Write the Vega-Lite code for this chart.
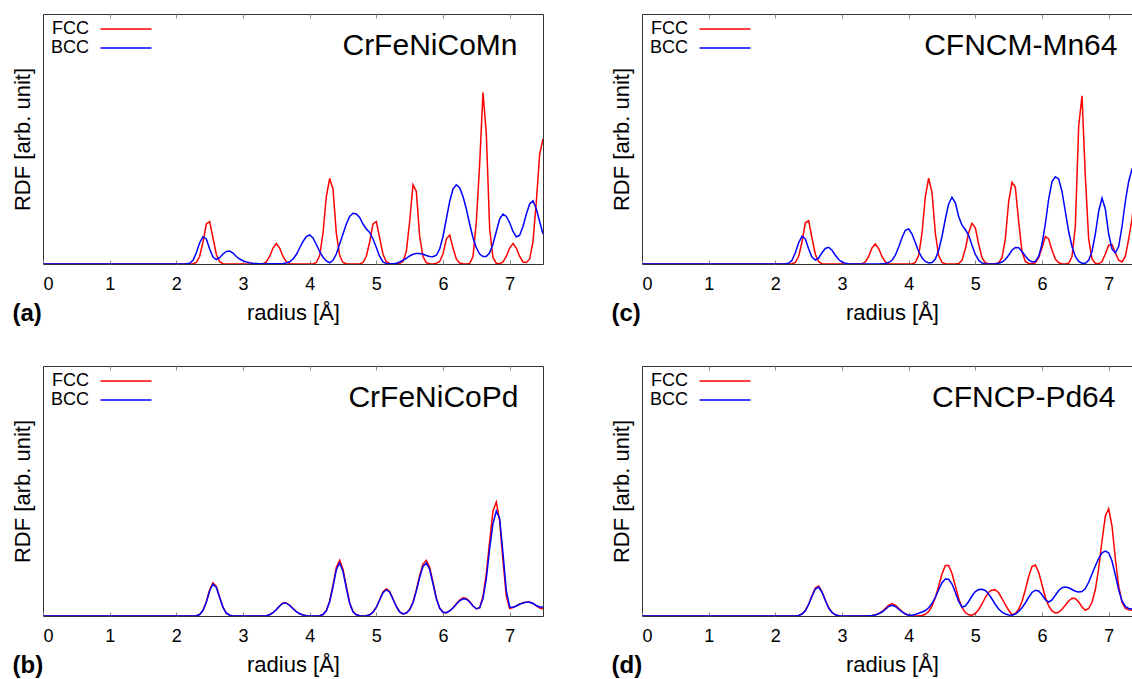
{
"$schema": "https://vega.github.io/schema/vega-lite/v6.json",
"background": "white",
"padding": {"left": 10, "top": 13, "right": 0, "bottom": 0},
"datasets": {
"a": [
{"r":0,"FCC":0,"BCC":0},{"r":2.05,"FCC":0,"BCC":0},{"r":2.1,"FCC":0,"BCC":0.05},{"r":2.15,"FCC":0,"BCC":0.1},{"r":2.2,"FCC":0,"BCC":0.3},{"r":2.25,"FCC":0.1,"BCC":1.5},{"r":2.3,"FCC":0.6,"BCC":4.5},{"r":2.35,"FCC":3.1,"BCC":8.5},{"r":2.4,"FCC":8.8,"BCC":10.9},{"r":2.45,"FCC":16,"BCC":10},{"r":2.5,"FCC":17,"BCC":6},{"r":2.55,"FCC":10.4,"BCC":2.8},{"r":2.6,"FCC":3.9,"BCC":1.8},{"r":2.65,"FCC":0.9,"BCC":2.5},{"r":2.7,"FCC":0.1,"BCC":4},{"r":2.75,"FCC":0,"BCC":5},{"r":2.8,"FCC":0,"BCC":5.2},{"r":2.85,"FCC":0,"BCC":4.4},{"r":2.9,"FCC":0,"BCC":3},{"r":2.95,"FCC":0,"BCC":2},{"r":3.0,"FCC":0,"BCC":1.3},{"r":3.05,"FCC":0,"BCC":0.8},{"r":3.1,"FCC":0,"BCC":0.5},{"r":3.15,"FCC":0,"BCC":0.3},{"r":3.2,"FCC":0,"BCC":0.2},{"r":3.25,"FCC":0,"BCC":0.1},{"r":3.3,"FCC":0.15,"BCC":0.1},{"r":3.35,"FCC":0.8,"BCC":0.1},{"r":3.4,"FCC":3,"BCC":0.1},{"r":3.45,"FCC":6.4,"BCC":0.1},{"r":3.5,"FCC":8.2,"BCC":0.1},{"r":3.55,"FCC":6.4,"BCC":0.1},{"r":3.6,"FCC":3,"BCC":0.2},{"r":3.65,"FCC":0.8,"BCC":0.4},{"r":3.7,"FCC":0.15,"BCC":0.9},{"r":3.75,"FCC":0,"BCC":2},{"r":3.8,"FCC":0,"BCC":3.8},{"r":3.85,"FCC":0,"BCC":6.4},{"r":3.9,"FCC":0,"BCC":9},{"r":3.95,"FCC":0,"BCC":11},{"r":4.0,"FCC":0,"BCC":11.6},{"r":4.05,"FCC":0,"BCC":10.4},{"r":4.1,"FCC":0.6,"BCC":7.8},{"r":4.15,"FCC":3.4,"BCC":5},{"r":4.2,"FCC":12.3,"BCC":2.7},{"r":4.25,"FCC":27,"BCC":1.2},{"r":4.3,"FCC":34.2,"BCC":0.5},{"r":4.35,"FCC":30,"BCC":1.5},{"r":4.4,"FCC":12.3,"BCC":4},{"r":4.45,"FCC":3.4,"BCC":8},{"r":4.5,"FCC":0.6,"BCC":12},{"r":4.55,"FCC":0.1,"BCC":16},{"r":4.6,"FCC":0,"BCC":19},{"r":4.65,"FCC":0,"BCC":20.3},{"r":4.7,"FCC":0,"BCC":20},{"r":4.75,"FCC":0,"BCC":18.6},{"r":4.8,"FCC":0.6,"BCC":16},{"r":4.85,"FCC":3.1,"BCC":14},{"r":4.9,"FCC":8.8,"BCC":12.6},{"r":4.95,"FCC":16,"BCC":10},{"r":5.0,"FCC":17,"BCC":6.6},{"r":5.05,"FCC":10.4,"BCC":3},{"r":5.1,"FCC":3.9,"BCC":0.8},{"r":5.15,"FCC":0.9,"BCC":0.2},{"r":5.2,"FCC":0.1,"BCC":0.1},{"r":5.25,"FCC":0,"BCC":0.1},{"r":5.3,"FCC":0,"BCC":0.3},{"r":5.35,"FCC":0.3,"BCC":0.8},{"r":5.4,"FCC":1,"BCC":1.5},{"r":5.45,"FCC":5,"BCC":2.3},{"r":5.5,"FCC":17,"BCC":3.2},{"r":5.55,"FCC":31.7,"BCC":3.9},{"r":5.6,"FCC":29,"BCC":4.2},{"r":5.65,"FCC":11,"BCC":4.2},{"r":5.7,"FCC":3,"BCC":3.9},{"r":5.75,"FCC":0.5,"BCC":3.4},{"r":5.8,"FCC":0.1,"BCC":3},{"r":5.85,"FCC":0,"BCC":2.9},{"r":5.9,"FCC":0.3,"BCC":3.5},{"r":5.95,"FCC":1,"BCC":6},{"r":6.0,"FCC":4,"BCC":11},{"r":6.05,"FCC":10,"BCC":18},{"r":6.1,"FCC":11.6,"BCC":25},{"r":6.15,"FCC":6.5,"BCC":30},{"r":6.2,"FCC":2,"BCC":31.7},{"r":6.25,"FCC":0.4,"BCC":30.5},{"r":6.3,"FCC":0.1,"BCC":27},{"r":6.35,"FCC":0,"BCC":22},{"r":6.4,"FCC":0.2,"BCC":16},{"r":6.45,"FCC":3,"BCC":10.5},{"r":6.5,"FCC":17,"BCC":6.5},{"r":6.55,"FCC":40,"BCC":4},{"r":6.6,"FCC":68.6,"BCC":3},{"r":6.65,"FCC":52,"BCC":3},{"r":6.7,"FCC":14,"BCC":4.5},{"r":6.75,"FCC":2.5,"BCC":8},{"r":6.8,"FCC":0.3,"BCC":13},{"r":6.85,"FCC":0.1,"BCC":18},{"r":6.9,"FCC":0.8,"BCC":20},{"r":6.95,"FCC":3,"BCC":19},{"r":7.0,"FCC":6.4,"BCC":16.5},{"r":7.05,"FCC":8.2,"BCC":13},{"r":7.1,"FCC":6.4,"BCC":10.8},{"r":7.15,"FCC":3,"BCC":11.5},{"r":7.2,"FCC":0.8,"BCC":15},{"r":7.25,"FCC":0.6,"BCC":20},{"r":7.3,"FCC":2,"BCC":24},{"r":7.35,"FCC":9,"BCC":25.3},{"r":7.4,"FCC":25,"BCC":22},{"r":7.45,"FCC":44,"BCC":17},{"r":7.5,"FCC":50,"BCC":12}
],
"c": [
{"r":0,"FCC":0,"BCC":0},{"r":2.1,"FCC":0,"BCC":0},{"r":2.15,"FCC":0,"BCC":0.1},{"r":2.2,"FCC":0,"BCC":0.3},{"r":2.25,"FCC":0.1,"BCC":1.5},{"r":2.3,"FCC":0.6,"BCC":4.5},{"r":2.35,"FCC":3.1,"BCC":8.5},{"r":2.4,"FCC":8.8,"BCC":11.1},{"r":2.45,"FCC":16.5,"BCC":10},{"r":2.5,"FCC":17.3,"BCC":6},{"r":2.55,"FCC":10.4,"BCC":2.8},{"r":2.6,"FCC":3.9,"BCC":1.6},{"r":2.65,"FCC":0.9,"BCC":2.3},{"r":2.7,"FCC":0.1,"BCC":4.5},{"r":2.75,"FCC":0,"BCC":6.2},{"r":2.8,"FCC":0,"BCC":6.7},{"r":2.85,"FCC":0,"BCC":5.5},{"r":2.9,"FCC":0,"BCC":3.5},{"r":2.95,"FCC":0,"BCC":1.8},{"r":3.0,"FCC":0,"BCC":0.8},{"r":3.05,"FCC":0,"BCC":0.3},{"r":3.1,"FCC":0,"BCC":0.1},{"r":3.15,"FCC":0,"BCC":0},{"r":3.25,"FCC":0,"BCC":0},{"r":3.3,"FCC":0.15,"BCC":0},{"r":3.35,"FCC":0.8,"BCC":0},{"r":3.4,"FCC":3,"BCC":0},{"r":3.45,"FCC":6.4,"BCC":0},{"r":3.5,"FCC":8,"BCC":0},{"r":3.55,"FCC":6.2,"BCC":0},{"r":3.6,"FCC":3,"BCC":0.1},{"r":3.65,"FCC":0.8,"BCC":0.2},{"r":3.7,"FCC":0.15,"BCC":0.6},{"r":3.75,"FCC":0,"BCC":1.5},{"r":3.8,"FCC":0,"BCC":3.5},{"r":3.85,"FCC":0,"BCC":6.8},{"r":3.9,"FCC":0,"BCC":10.5},{"r":3.95,"FCC":0,"BCC":13.5},{"r":4.0,"FCC":0,"BCC":14},{"r":4.05,"FCC":0,"BCC":12},{"r":4.1,"FCC":0.6,"BCC":8.5},{"r":4.15,"FCC":3.4,"BCC":5},{"r":4.2,"FCC":12.3,"BCC":2.5},{"r":4.25,"FCC":27,"BCC":1},{"r":4.3,"FCC":34.3,"BCC":0.4},{"r":4.35,"FCC":28.7,"BCC":0.6},{"r":4.4,"FCC":12.3,"BCC":2},{"r":4.45,"FCC":3.4,"BCC":5.5},{"r":4.5,"FCC":0.6,"BCC":11},{"r":4.55,"FCC":0.1,"BCC":18},{"r":4.6,"FCC":0,"BCC":24},{"r":4.65,"FCC":0,"BCC":26.7},{"r":4.7,"FCC":0,"BCC":24.5},{"r":4.75,"FCC":0.2,"BCC":19},{"r":4.8,"FCC":1.5,"BCC":15.5},{"r":4.85,"FCC":6,"BCC":13.8},{"r":4.9,"FCC":12.5,"BCC":11.5},{"r":4.95,"FCC":16.3,"BCC":7.5},{"r":5.0,"FCC":14.5,"BCC":3.8},{"r":5.05,"FCC":8,"BCC":1.5},{"r":5.1,"FCC":2.5,"BCC":0.4},{"r":5.15,"FCC":0.5,"BCC":0.1},{"r":5.2,"FCC":0.1,"BCC":0},{"r":5.25,"FCC":0,"BCC":0},{"r":5.3,"FCC":0.1,"BCC":0.1},{"r":5.35,"FCC":0.5,"BCC":0.3},{"r":5.4,"FCC":2.5,"BCC":0.8},{"r":5.45,"FCC":10,"BCC":1.8},{"r":5.5,"FCC":25,"BCC":3.5},{"r":5.55,"FCC":32.7,"BCC":5.5},{"r":5.6,"FCC":30.7,"BCC":6.6},{"r":5.65,"FCC":17,"BCC":6.5},{"r":5.7,"FCC":5,"BCC":5},{"r":5.75,"FCC":1,"BCC":3.2},{"r":5.8,"FCC":0.2,"BCC":1.6},{"r":5.85,"FCC":0.1,"BCC":0.8},{"r":5.9,"FCC":0.5,"BCC":1},{"r":5.95,"FCC":2.5,"BCC":3},{"r":6.0,"FCC":6.5,"BCC":8},{"r":6.05,"FCC":11,"BCC":16},{"r":6.1,"FCC":10,"BCC":26},{"r":6.15,"FCC":5.5,"BCC":33},{"r":6.2,"FCC":2,"BCC":34.9},{"r":6.25,"FCC":0.5,"BCC":34},{"r":6.3,"FCC":0.1,"BCC":29},{"r":6.35,"FCC":0,"BCC":21},{"r":6.4,"FCC":0.3,"BCC":13},{"r":6.45,"FCC":3,"BCC":7},{"r":6.5,"FCC":15,"BCC":3},{"r":6.55,"FCC":55,"BCC":1},{"r":6.6,"FCC":67.3,"BCC":0.3},{"r":6.65,"FCC":35,"BCC":0.3},{"r":6.7,"FCC":10,"BCC":1.5},{"r":6.75,"FCC":2,"BCC":5},{"r":6.8,"FCC":0.3,"BCC":12},{"r":6.85,"FCC":0.1,"BCC":21},{"r":6.9,"FCC":1,"BCC":26.4},{"r":6.95,"FCC":4,"BCC":22},{"r":7.0,"FCC":7.5,"BCC":12},{"r":7.05,"FCC":7.8,"BCC":6},{"r":7.1,"FCC":4.5,"BCC":4.4},{"r":7.15,"FCC":1.5,"BCC":7},{"r":7.2,"FCC":0.8,"BCC":15},{"r":7.25,"FCC":3,"BCC":25},{"r":7.3,"FCC":10,"BCC":33},{"r":7.35,"FCC":18,"BCC":38},{"r":7.4,"FCC":30,"BCC":40},{"r":7.45,"FCC":45,"BCC":38},{"r":7.5,"FCC":55,"BCC":32}
],
"b": [
{"r":0,"FCC":0,"BCC":0},{"r":2.25,"FCC":0,"BCC":0},{"r":2.3,"FCC":0.1,"BCC":0.1},{"r":2.35,"FCC":0.6,"BCC":0.6},{"r":2.4,"FCC":2.3,"BCC":2.2},{"r":2.45,"FCC":5.7,"BCC":5.5},{"r":2.5,"FCC":10.5,"BCC":10.1},{"r":2.55,"FCC":13.3,"BCC":12.8},{"r":2.6,"FCC":11.8,"BCC":11.4},{"r":2.65,"FCC":7.6,"BCC":7.3},{"r":2.7,"FCC":3.5,"BCC":3.4},{"r":2.75,"FCC":1.1,"BCC":1.1},{"r":2.8,"FCC":0.3,"BCC":0.3},{"r":2.85,"FCC":0.05,"BCC":0.05},{"r":2.9,"FCC":0,"BCC":0},{"r":3.25,"FCC":0,"BCC":0},{"r":3.3,"FCC":0.05,"BCC":0.05},{"r":3.35,"FCC":0.15,"BCC":0.15},{"r":3.4,"FCC":0.5,"BCC":0.5},{"r":3.45,"FCC":1.3,"BCC":1.3},{"r":3.5,"FCC":2.6,"BCC":2.5},{"r":3.55,"FCC":4.1,"BCC":4},{"r":3.6,"FCC":5.2,"BCC":5.1},{"r":3.65,"FCC":5.2,"BCC":5.1},{"r":3.7,"FCC":4.3,"BCC":4.2},{"r":3.75,"FCC":3,"BCC":2.9},{"r":3.8,"FCC":1.8,"BCC":1.7},{"r":3.85,"FCC":0.9,"BCC":0.9},{"r":3.9,"FCC":0.4,"BCC":0.4},{"r":3.95,"FCC":0.15,"BCC":0.15},{"r":4.0,"FCC":0.05,"BCC":0.05},{"r":4.05,"FCC":0,"BCC":0},{"r":4.1,"FCC":0,"BCC":0},{"r":4.15,"FCC":0.1,"BCC":0.1},{"r":4.2,"FCC":0.6,"BCC":0.6},{"r":4.25,"FCC":2.2,"BCC":2.1},{"r":4.3,"FCC":6,"BCC":5.7},{"r":4.35,"FCC":12.3,"BCC":11.7},{"r":4.4,"FCC":19.5,"BCC":18.5},{"r":4.45,"FCC":22.3,"BCC":21.2},{"r":4.5,"FCC":18.7,"BCC":17.8},{"r":4.55,"FCC":11.8,"BCC":11.2},{"r":4.6,"FCC":5.3,"BCC":5.1},{"r":4.65,"FCC":1.8,"BCC":1.7},{"r":4.7,"FCC":0.5,"BCC":0.5},{"r":4.75,"FCC":0.1,"BCC":0.1},{"r":4.8,"FCC":0.05,"BCC":0.05},{"r":4.85,"FCC":0.1,"BCC":0.1},{"r":4.9,"FCC":0.5,"BCC":0.5},{"r":4.95,"FCC":1.5,"BCC":1.5},{"r":5.0,"FCC":3.5,"BCC":3.4},{"r":5.05,"FCC":6.6,"BCC":6.4},{"r":5.1,"FCC":9.6,"BCC":9.3},{"r":5.15,"FCC":10.9,"BCC":10.5},{"r":5.2,"FCC":9.8,"BCC":9.5},{"r":5.25,"FCC":6.9,"BCC":6.7},{"r":5.3,"FCC":3.8,"BCC":3.7},{"r":5.35,"FCC":1.6,"BCC":1.6},{"r":5.4,"FCC":0.8,"BCC":0.8},{"r":5.45,"FCC":1.2,"BCC":1.2},{"r":5.5,"FCC":2.6,"BCC":2.5},{"r":5.55,"FCC":5.6,"BCC":5.3},{"r":5.6,"FCC":10.5,"BCC":10},{"r":5.65,"FCC":16.2,"BCC":15.4},{"r":5.7,"FCC":20.8,"BCC":19.8},{"r":5.75,"FCC":22.3,"BCC":21.2},{"r":5.8,"FCC":19.5,"BCC":18.6},{"r":5.85,"FCC":13.5,"BCC":12.9},{"r":5.9,"FCC":7.2,"BCC":6.9},{"r":5.95,"FCC":3.2,"BCC":3.1},{"r":6.0,"FCC":1.5,"BCC":1.5},{"r":6.05,"FCC":1.2,"BCC":1.3},{"r":6.1,"FCC":2,"BCC":2},{"r":6.15,"FCC":3.3,"BCC":3.2},{"r":6.2,"FCC":4.9,"BCC":4.7},{"r":6.25,"FCC":6.4,"BCC":6.1},{"r":6.3,"FCC":7.3,"BCC":6.9},{"r":6.35,"FCC":7,"BCC":6.7},{"r":6.4,"FCC":5.8,"BCC":5.6},{"r":6.45,"FCC":4,"BCC":4},{"r":6.5,"FCC":2.8,"BCC":2.9},{"r":6.55,"FCC":3.2,"BCC":3.3},{"r":6.6,"FCC":8,"BCC":7},{"r":6.65,"FCC":17,"BCC":15},{"r":6.7,"FCC":30,"BCC":27},{"r":6.75,"FCC":42,"BCC":37},{"r":6.8,"FCC":45.6,"BCC":42},{"r":6.85,"FCC":38,"BCC":39},{"r":6.9,"FCC":22,"BCC":25},{"r":6.95,"FCC":8,"BCC":10},{"r":7.0,"FCC":3,"BCC":3.6},{"r":7.05,"FCC":3.4,"BCC":3.5},{"r":7.1,"FCC":4,"BCC":4},{"r":7.15,"FCC":4.8,"BCC":4.7},{"r":7.2,"FCC":5.3,"BCC":5.2},{"r":7.25,"FCC":5.6,"BCC":5.5},{"r":7.3,"FCC":5.6,"BCC":5.5},{"r":7.35,"FCC":5,"BCC":5},{"r":7.4,"FCC":4,"BCC":4.2},{"r":7.45,"FCC":3.2,"BCC":3.6},{"r":7.5,"FCC":2.9,"BCC":3.6}
],
"d": [
{"r":0,"FCC":0,"BCC":0},{"r":2.25,"FCC":0,"BCC":0},{"r":2.3,"FCC":0.05,"BCC":0.05},{"r":2.35,"FCC":0.2,"BCC":0.2},{"r":2.4,"FCC":0.8,"BCC":0.8},{"r":2.45,"FCC":2.2,"BCC":2.1},{"r":2.5,"FCC":4.8,"BCC":4.6},{"r":2.55,"FCC":8.2,"BCC":7.9},{"r":2.6,"FCC":11.2,"BCC":10.8},{"r":2.65,"FCC":12,"BCC":11.6},{"r":2.7,"FCC":9.8,"BCC":9.5},{"r":2.75,"FCC":6.4,"BCC":6.2},{"r":2.8,"FCC":3.3,"BCC":3.2},{"r":2.85,"FCC":1.4,"BCC":1.4},{"r":2.9,"FCC":0.5,"BCC":0.5},{"r":2.95,"FCC":0.15,"BCC":0.15},{"r":3.0,"FCC":0.05,"BCC":0.05},{"r":3.05,"FCC":0,"BCC":0},{"r":3.35,"FCC":0,"BCC":0},{"r":3.4,"FCC":0.1,"BCC":0.1},{"r":3.45,"FCC":0.2,"BCC":0.2},{"r":3.5,"FCC":0.5,"BCC":0.4},{"r":3.55,"FCC":1,"BCC":0.9},{"r":3.6,"FCC":1.8,"BCC":1.6},{"r":3.65,"FCC":3,"BCC":2.6},{"r":3.7,"FCC":4.3,"BCC":3.8},{"r":3.75,"FCC":4.9,"BCC":4.3},{"r":3.8,"FCC":4.3,"BCC":3.8},{"r":3.85,"FCC":3.1,"BCC":2.7},{"r":3.9,"FCC":1.8,"BCC":1.6},{"r":3.95,"FCC":0.8,"BCC":0.8},{"r":4.0,"FCC":0.3,"BCC":0.3},{"r":4.05,"FCC":0.1,"BCC":0.3},{"r":4.1,"FCC":0.05,"BCC":0.6},{"r":4.15,"FCC":0.1,"BCC":1.1},{"r":4.2,"FCC":0.2,"BCC":1.6},{"r":4.25,"FCC":0.7,"BCC":2.2},{"r":4.3,"FCC":1.8,"BCC":3.3},{"r":4.35,"FCC":3.9,"BCC":5},{"r":4.4,"FCC":7.3,"BCC":7.5},{"r":4.45,"FCC":12,"BCC":10.5},{"r":4.5,"FCC":16.8,"BCC":13.3},{"r":4.55,"FCC":20.2,"BCC":14.8},{"r":4.6,"FCC":20.2,"BCC":14.7},{"r":4.65,"FCC":17,"BCC":12.8},{"r":4.7,"FCC":12,"BCC":9.5},{"r":4.75,"FCC":7,"BCC":5.8},{"r":4.8,"FCC":3.4,"BCC":3.6},{"r":4.85,"FCC":1.4,"BCC":4},{"r":4.9,"FCC":0.5,"BCC":5.8},{"r":4.95,"FCC":0.3,"BCC":8},{"r":5.0,"FCC":1,"BCC":9.8},{"r":5.05,"FCC":2.5,"BCC":10.6},{"r":5.1,"FCC":4.8,"BCC":10.7},{"r":5.15,"FCC":7.4,"BCC":10.2},{"r":5.2,"FCC":9.5,"BCC":8.8},{"r":5.25,"FCC":10.4,"BCC":6.8},{"r":5.3,"FCC":10.5,"BCC":4.6},{"r":5.35,"FCC":9.3,"BCC":2.8},{"r":5.4,"FCC":7,"BCC":1.5},{"r":5.45,"FCC":4.5,"BCC":0.8},{"r":5.5,"FCC":2.3,"BCC":0.4},{"r":5.55,"FCC":0.5,"BCC":0.3},{"r":5.6,"FCC":1,"BCC":0.8},{"r":5.65,"FCC":2.7,"BCC":1.8},{"r":5.7,"FCC":5.8,"BCC":3.3},{"r":5.75,"FCC":10.5,"BCC":5.2},{"r":5.8,"FCC":15.8,"BCC":7.5},{"r":5.85,"FCC":19.8,"BCC":9.4},{"r":5.9,"FCC":20.4,"BCC":10.3},{"r":5.95,"FCC":17.5,"BCC":10},{"r":6.0,"FCC":12.5,"BCC":8.5},{"r":6.05,"FCC":7.5,"BCC":6.5},{"r":6.1,"FCC":4,"BCC":5.6},{"r":6.15,"FCC":2,"BCC":6.4},{"r":6.2,"FCC":1.2,"BCC":8.3},{"r":6.25,"FCC":1.5,"BCC":10.2},{"r":6.3,"FCC":2.7,"BCC":11.3},{"r":6.35,"FCC":4.3,"BCC":11.6},{"r":6.4,"FCC":6,"BCC":11.3},{"r":6.45,"FCC":7.1,"BCC":10.6},{"r":6.5,"FCC":7,"BCC":9.9},{"r":6.55,"FCC":5.6,"BCC":9.6},{"r":6.6,"FCC":3.6,"BCC":9.8},{"r":6.65,"FCC":2.3,"BCC":11},{"r":6.7,"FCC":3,"BCC":13.5},{"r":6.75,"FCC":5.5,"BCC":16.8},{"r":6.8,"FCC":10.5,"BCC":20},{"r":6.85,"FCC":19,"BCC":23},{"r":6.9,"FCC":30,"BCC":25.3},{"r":6.95,"FCC":40,"BCC":26},{"r":7.0,"FCC":42.9,"BCC":25.3},{"r":7.05,"FCC":36,"BCC":22},{"r":7.1,"FCC":23,"BCC":16.5},{"r":7.15,"FCC":12,"BCC":10.5},{"r":7.2,"FCC":5.5,"BCC":6},{"r":7.25,"FCC":3,"BCC":3.8},{"r":7.3,"FCC":2.5,"BCC":3},{"r":7.35,"FCC":2.3,"BCC":2.8},{"r":7.4,"FCC":2.2,"BCC":2.7},{"r":7.45,"FCC":2.5,"BCC":2.8},{"r":7.5,"FCC":3,"BCC":3}
]
},
"columns": 2,
"concat": [
{"width": 500, "height": 250, "data": {"name": "a"},
 "transform": [{"fold": ["FCC", "BCC"], "as": ["phase", "rdf"]}],
 "layer": [
  {"mark": {"type": "line", "strokeWidth": 1.5, "clip": true},
   "encoding": {
    "x": {"field": "r", "type": "quantitative", "scale": {"domain": [0, 7.5], "nice": false, "zero": false}, "axis": {"orient": "bottom", "values": [0,1,2,3,4,5,6,7], "title": "radius [Å]", "titleX": 250, "titleY": 55, "titleAlign": "center", "titleBaseline": "alphabetic"}},
    "y": {"field": "rdf", "type": "quantitative", "scale": {"domain": [0, 100], "nice": false}, "axis": {"title": "RDF [arb. unit]", "labels": false, "ticks": false, "domain": false, "titleX": -14, "titleY": 125, "titleAngle": 270, "titleAlign": "center", "titleBaseline": "alphabetic"}},
    "color": {"field": "phase", "type": "nominal", "sort": ["FCC", "BCC"], "scale": {"domain": ["FCC", "BCC"], "range": ["#ff0000", "#0000ff"]}}
   }},
  {"mark": {"type": "point", "opacity": 0},
   "encoding": {
    "x": {"field": "r", "type": "quantitative", "scale": {"domain": [0, 7.5], "nice": false, "zero": false}, "axis": {"orient": "top", "values": [1,2,3,4,5,6,7], "labels": false, "title": "CrFeNiCoMn", "titleFontSize": 30, "titleX": 474, "titleY": 40, "titleAlign": "right", "titleBaseline": "alphabetic"}},
    "y": {"field": "rdf", "type": "quantitative", "scale": {"domain": [0, 100], "nice": false}, "axis": {"orient": "right", "labels": false, "ticks": false, "domain": false, "title": "(a)", "titleAngle": 0, "titleAlign": "left", "titleBaseline": "alphabetic", "titleX": -531, "titleY": 306, "titleFontSize": 24, "titleFontWeight": "bold"}}
   }}
 ],
 "resolve": {"axis": {"x": "independent", "y": "independent"}}
},
{"width": 490, "height": 250, "data": {"name": "c"},
 "transform": [{"fold": ["FCC", "BCC"], "as": ["phase", "rdf"]}],
 "layer": [
  {"mark": {"type": "line", "strokeWidth": 1.5, "clip": true},
   "encoding": {
    "x": {"field": "r", "type": "quantitative", "scale": {"domain": [0, 7.35], "nice": false, "zero": false}, "axis": {"orient": "bottom", "values": [0,1,2,3,4,5,6,7], "title": "radius [Å]", "titleX": 250, "titleY": 55, "titleAlign": "center", "titleBaseline": "alphabetic"}},
    "y": {"field": "rdf", "type": "quantitative", "scale": {"domain": [0, 100], "nice": false}, "axis": {"title": "RDF [arb. unit]", "labels": false, "ticks": false, "domain": false, "titleX": -14, "titleY": 125, "titleAngle": 270, "titleAlign": "center", "titleBaseline": "alphabetic"}},
    "color": {"field": "phase", "type": "nominal", "sort": ["FCC", "BCC"], "scale": {"domain": ["FCC", "BCC"], "range": ["#ff0000", "#0000ff"]}}
   }},
  {"mark": {"type": "point", "opacity": 0},
   "encoding": {
    "x": {"field": "r", "type": "quantitative", "scale": {"domain": [0, 7.35], "nice": false, "zero": false}, "axis": {"orient": "top", "values": [1,2,3,4,5,6,7], "labels": false, "title": "CFNCM-Mn64", "titleFontSize": 30, "titleX": 475, "titleY": 40, "titleAlign": "right", "titleBaseline": "alphabetic"}},
    "y": {"field": "rdf", "type": "quantitative", "scale": {"domain": [0, 100], "nice": false}, "axis": {"orient": "right", "labels": false, "ticks": false, "domain": false, "title": "(c)", "titleAngle": 0, "titleAlign": "left", "titleBaseline": "alphabetic", "titleX": -521, "titleY": 306, "titleFontSize": 24, "titleFontWeight": "bold"}}
   }}
 ],
 "resolve": {"axis": {"x": "independent", "y": "independent"}}
},
{"width": 500, "height": 250, "data": {"name": "b"},
 "transform": [{"fold": ["FCC", "BCC"], "as": ["phase", "rdf"]}],
 "layer": [
  {"mark": {"type": "line", "strokeWidth": 1.5, "clip": true},
   "encoding": {
    "x": {"field": "r", "type": "quantitative", "scale": {"domain": [0, 7.5], "nice": false, "zero": false}, "axis": {"orient": "bottom", "values": [0,1,2,3,4,5,6,7], "title": "radius [Å]", "titleX": 250, "titleY": 55, "titleAlign": "center", "titleBaseline": "alphabetic"}},
    "y": {"field": "rdf", "type": "quantitative", "scale": {"domain": [0, 100], "nice": false}, "axis": {"title": "RDF [arb. unit]", "labels": false, "ticks": false, "domain": false, "titleX": -14, "titleY": 125, "titleAngle": 270, "titleAlign": "center", "titleBaseline": "alphabetic"}},
    "color": {"field": "phase", "type": "nominal", "sort": ["FCC", "BCC"], "scale": {"domain": ["FCC", "BCC"], "range": ["#ff0000", "#0000ff"]}}
   }},
  {"mark": {"type": "point", "opacity": 0},
   "encoding": {
    "x": {"field": "r", "type": "quantitative", "scale": {"domain": [0, 7.5], "nice": false, "zero": false}, "axis": {"orient": "top", "values": [1,2,3,4,5,6,7], "labels": false, "title": "CrFeNiCoPd", "titleFontSize": 30, "titleX": 475, "titleY": 40, "titleAlign": "right", "titleBaseline": "alphabetic"}},
    "y": {"field": "rdf", "type": "quantitative", "scale": {"domain": [0, 100], "nice": false}, "axis": {"orient": "right", "labels": false, "ticks": false, "domain": false, "title": "(b)", "titleAngle": 0, "titleAlign": "left", "titleBaseline": "alphabetic", "titleX": -531, "titleY": 306, "titleFontSize": 24, "titleFontWeight": "bold"}}
   }}
 ],
 "resolve": {"axis": {"x": "independent", "y": "independent"}}
},
{"width": 490, "height": 250, "data": {"name": "d"},
 "transform": [{"fold": ["FCC", "BCC"], "as": ["phase", "rdf"]}],
 "layer": [
  {"mark": {"type": "line", "strokeWidth": 1.5, "clip": true},
   "encoding": {
    "x": {"field": "r", "type": "quantitative", "scale": {"domain": [0, 7.35], "nice": false, "zero": false}, "axis": {"orient": "bottom", "values": [0,1,2,3,4,5,6,7], "title": "radius [Å]", "titleX": 250, "titleY": 55, "titleAlign": "center", "titleBaseline": "alphabetic"}},
    "y": {"field": "rdf", "type": "quantitative", "scale": {"domain": [0, 100], "nice": false}, "axis": {"title": "RDF [arb. unit]", "labels": false, "ticks": false, "domain": false, "titleX": -14, "titleY": 125, "titleAngle": 270, "titleAlign": "center", "titleBaseline": "alphabetic"}},
    "color": {"field": "phase", "type": "nominal", "sort": ["FCC", "BCC"], "scale": {"domain": ["FCC", "BCC"], "range": ["#ff0000", "#0000ff"]}}
   }},
  {"mark": {"type": "point", "opacity": 0},
   "encoding": {
    "x": {"field": "r", "type": "quantitative", "scale": {"domain": [0, 7.35], "nice": false, "zero": false}, "axis": {"orient": "top", "values": [1,2,3,4,5,6,7], "labels": false, "title": "CFNCP-Pd64", "titleFontSize": 30, "titleX": 473, "titleY": 40, "titleAlign": "right", "titleBaseline": "alphabetic"}},
    "y": {"field": "rdf", "type": "quantitative", "scale": {"domain": [0, 100], "nice": false}, "axis": {"orient": "right", "labels": false, "ticks": false, "domain": false, "title": "(d)", "titleAngle": 0, "titleAlign": "left", "titleBaseline": "alphabetic", "titleX": -521, "titleY": 306, "titleFontSize": 24, "titleFontWeight": "bold"}}
   }}
 ],
 "resolve": {"axis": {"x": "independent", "y": "independent"}}
}
],
"spacing": {"row": 102, "column": 99},
"bounds": "flush",
"resolve": {"scale": {"color": "independent"}, "legend": {"color": "independent"}},
"config": {
 "font": "Liberation Sans",
 "view": {"stroke": "#333333", "strokeWidth": 1},
 "axis": {"grid": false, "domain": false, "tickColor": "#888888", "tickSize": -4, "tickWidth": 1, "labelFontSize": 18, "labelColor": "black", "labelPadding": 15, "titleFontSize": 22, "titleFontWeight": "normal", "titleColor": "black", "labelFont": "Liberation Sans", "titleFont": "Liberation Sans"},
 "legend": {"orient": "none", "legendX": 74, "legendY": 6, "title": null, "padding": 0, "symbolType": "M-3.4,0H3.4", "symbolSize": 225, "symbolStrokeWidth": 1.5, "labelAlign": "right", "labelOffset": -46, "labelFontSize": 18, "labelColor": "black", "labelFont": "Liberation Sans", "rowPadding": 1}
}
}
